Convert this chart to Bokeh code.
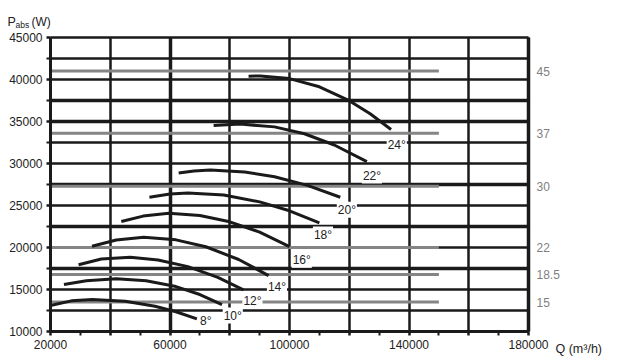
from bokeh.plotting import figure
from bokeh.models import ColumnDataSource, FixedTicker, Grid, Label, Range1d
from bokeh.embed import file_html
from bokeh.resources import INLINE
from bokeh.core.properties import value

# ---- data -------------------------------------------------------------
angles = ["8°", "10°", "12°", "14°", "16°", "18°", "20°", "22°", "24°"]

q_8 = [20000, 27000, 34000, 45000, 55000, 62000, 69000]
p_8 = [13100, 13650, 13800, 13600, 13000, 12350, 11500]
q_10 = [24500, 32000, 42000, 52000, 62000, 70000, 77400]
p_10 = [15600, 16050, 16270, 16030, 15350, 14400, 13200]
q_12 = [29400, 37000, 46700, 56000, 66000, 76000, 84600]
p_12 = [17940, 18630, 18840, 18510, 17720, 16450, 14960]
q_14 = [33900, 42000, 51200, 62000, 72000, 83000, 93000]
p_14 = [20150, 20890, 21220, 20910, 20090, 18570, 16660]
q_16 = [43700, 51000, 59600, 70000, 80000, 90000, 100000]
p_16 = [23090, 23740, 24080, 23820, 23060, 21830, 20100]
q_18 = [53100, 60000, 66000, 78000, 90000, 100000, 110000]
p_18 = [25980, 26360, 26500, 26250, 25430, 24370, 22940]
q_20 = [62900, 68000, 73500, 85000, 95000, 106000, 117000]
p_20 = [28880, 29120, 29220, 29000, 28420, 27400, 25980]
q_22 = [74600, 79000, 83500, 95000, 105000, 115000, 125900]
p_22 = [34510, 34620, 34690, 34360, 33540, 32200, 30230]
q_24 = [86300, 90200, 100000, 110000, 120000, 127000, 134000]
p_24 = [40380, 40430, 40110, 39130, 37480, 35920, 34040]

curve_q = [q_8, q_10, q_12, q_14, q_16, q_18, q_20, q_22, q_24]
curve_p = [p_8, p_10, p_12, p_14, p_16, p_18, p_20, p_22, p_24]

label_q = [72000, 81000, 87600, 95800, 104100, 111200, 119200, 127600, 135900]
label_p = [11230, 11900, 13690, 15270, 18530, 21540, 24480, 28560, 32250]

motor_kw = ["45", "37", "30", "22", "18.5", "15"]
motor_p = [41000, 33600, 27300, 20000, 16800, 13500]
motor_q_start = [20000] * 6
motor_q_end = [150000] * 6

x_min, x_max = 20000, 180000
y_min, y_max = 10000, 45000
x_ticks = [20000, 40000, 60000, 80000, 100000, 120000, 140000, 160000, 180000]
x_tick_labels = ["20000", "", "60000", "", "100000", "", "140000", "", "180000"]
x_minor = [30000, 50000, 70000, 90000, 110000, 130000, 150000, 170000]
y_ticks = [10000, 15000, 20000, 25000, 30000, 35000, 40000, 45000]
y_minor = [12500, 17500, 22500, 27500, 32500, 37500, 42500]
y_grid = [10000, 12500, 15000, 17500, 20000, 22500, 25000, 27500, 30000,
          32500, 35000, 37500, 40000, 42500, 45000]
y_grid_heavy = [17500, 22500, 27500, 35000, 37500]
x_grid_heavy = [60000, 180000]

# ---- layout (pixels) --------------------------------------------------
W, H = 611, 358
FL, FR, FT, FB = 50, 528, 37, 331          # plotting area edges in canvas px
kx = (FR - FL) / (x_max - x_min)
ky = (FB - FT) / (y_max - y_min)
view_x = (x_min - FL / kx, x_max + (W - FR) / kx)
view_y = (y_min - (H - FB) / ky, y_max + FT / ky)

FONT = "Liberation Sans"
INK = "#1a1a1a"
GREY = "#858585"

p = figure(width=W, height=H,
           x_range=Range1d(*view_x), y_range=Range1d(*view_y),
           output_backend="svg", toolbar_location=None,
           min_border=0, min_border_left=0, min_border_right=0,
           min_border_top=0, min_border_bottom=0)
p.outline_line_color = None
p.background_fill_color = "white"
p.border_fill_color = "white"

p.xgrid.ticker = FixedTicker(ticks=x_ticks)
p.ygrid.ticker = FixedTicker(ticks=y_grid)
p.xgrid.cross_bounds = (y_min, y_max)
p.ygrid.cross_bounds = (x_min, x_max)
for g in (p.xgrid, p.ygrid):
    g.grid_line_color = INK
    g.grid_line_width = 2.5
    g.grid_line_alpha = 1

p.add_layout(Grid(dimension=0, ticker=FixedTicker(ticks=x_grid_heavy),
                  cross_bounds=(y_min, y_max),
                  grid_line_color=INK, grid_line_width=3.5))
p.add_layout(Grid(dimension=1, ticker=FixedTicker(ticks=y_grid_heavy),
                  cross_bounds=(x_min, x_max),
                  grid_line_color=INK, grid_line_width=3.5))

p.xaxis.ticker = FixedTicker(ticks=x_ticks, minor_ticks=x_minor)
p.xaxis.major_label_overrides = {t: s for t, s in zip(x_ticks, x_tick_labels)}
p.xaxis.fixed_location = y_min
p.xaxis.bounds = (x_min, x_max)
p.yaxis.ticker = FixedTicker(ticks=y_ticks, minor_ticks=y_minor)
p.yaxis.major_label_overrides = {t: str(t) for t in y_ticks}
p.yaxis.fixed_location = x_min
p.yaxis.bounds = (y_min, y_max)

for ax in (p.xaxis, p.yaxis):
    ax.axis_line_color = INK
    ax.axis_line_width = 3
    ax.major_tick_line_color = INK
    ax.major_tick_line_width = 2.5
    ax.major_tick_out = 4
    ax.major_tick_in = 0
    ax.minor_tick_line_color = INK
    ax.minor_tick_line_width = 2
    ax.minor_tick_out = 4
    ax.minor_tick_in = 0
    ax.major_label_text_font = FONT
    ax.major_label_text_font_size = "12px"
    ax.major_label_text_color = "#222222"
p.xaxis.major_label_standoff = 4
p.yaxis.major_label_standoff = 4

# motor power lines and their kW labels
msrc = ColumnDataSource(dict(x0=motor_q_start, x1=motor_q_end, y=motor_p,
                             t=motor_kw, xr=[x_max] * len(motor_p)))
p.segment(x0="x0", x1="x1", y0="y", y1="y", source=msrc,
          line_color=GREY, line_width=3)
p.text(x="xr", y="y", text="t", source=msrc, x_offset=8,
       text_baseline="middle", text_align="left", text_font=value(FONT),
       text_font_size="12px", text_color="#7f7f7f")

# blade-angle curves
p.multi_line(xs=curve_q, ys=curve_p, line_color=INK, line_width=3)

# angle labels
lsrc = ColumnDataSource(dict(x=label_q, y=label_p, t=angles))
p.text(x="x", y="y", text="t", source=lsrc, text_align="center",
       text_baseline="middle", text_font=value(FONT), text_font_size="12px",
       text_color="#222222", background_fill_color="white", padding=1)

# axis titles (canvas units)
def canvas_label(x, y, text, size):
    p.add_layout(Label(x=x, y=y, x_units="canvas", y_units="canvas", text=text,
                       text_font=FONT, text_font_size=size, text_align="left",
                       text_color="#222222", text_baseline="alphabetic"))

canvas_label(7, 21, "P", "12.5px")
canvas_label(15, 24.5, "abs", "8.5px")
canvas_label(31, 21, "(W)", "12px")
canvas_label(555, 348, "Q (m³/h)", "12.5px")

open("out.html", "w").write(file_html(p, INLINE))
